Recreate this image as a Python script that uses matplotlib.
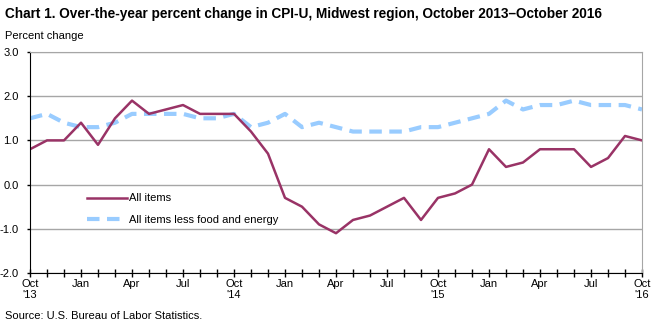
import matplotlib
matplotlib.use('Agg')
import matplotlib.pyplot as plt
from matplotlib.lines import Line2D

plt.rcParams['font.family'] = ['Liberation Sans', 'DejaVu Sans']

# monthly, Oct 2013 .. Oct 2016
all_items = [0.8, 1.0, 1.0, 1.4, 0.9, 1.5, 1.9, 1.6, 1.7, 1.8, 1.6, 1.6,
             1.6, 1.2, 0.7, -0.3, -0.5, -0.9, -1.1, -0.8, -0.7, -0.5, -0.3, -0.8,
             -0.3, -0.2, 0.0, 0.8, 0.4, 0.5, 0.8, 0.8, 0.8, 0.4, 0.6, 1.1,
             1.0]
core = [1.5, 1.6, 1.4, 1.3, 1.3, 1.4, 1.6, 1.6, 1.6, 1.6, 1.5, 1.5,
        1.6, 1.3, 1.4, 1.6, 1.3, 1.4, 1.3, 1.2, 1.2, 1.2, 1.2, 1.3,
        1.3, 1.4, 1.5, 1.6, 1.9, 1.7, 1.8, 1.8, 1.9, 1.8, 1.8, 1.8,
        1.7]
tick_labels = ["Oct\n'13", 'Jan', 'Apr', 'Jul', "Oct\n'14", 'Jan', 'Apr', 'Jul',
               "Oct\n'15", 'Jan', 'Apr', 'Jul', "Oct\n'16"]
y_ticks = [-2.0, -1.0, 0.0, 1.0, 2.0, 3.0]

W, H = 659, 326
fig = plt.figure(figsize=(W / 100, H / 100), dpi=100)
ax = fig.add_axes([30 / W, 1 - 273 / H, (642 - 30) / W, (273 - 52) / H])

x = list(range(len(all_items)))
ax.plot(x, core, color='#99CCFF', lw=3, dashes=(3, 1.8), solid_capstyle='butt')
ax.plot(x, all_items, color='#993366', lw=1.8)

ax.set_xlim(0, 36)
ax.set_ylim(-2, 3)
ax.set_yticks(y_ticks)
ax.set_yticklabels(['%.1f' % v for v in y_ticks])
ax.set_xticks(range(0, 37, 3))
ax.set_xticklabels(tick_labels)
ax.set_xticks(range(37), minor=True)
ax.tick_params(axis='x', which='both', direction='inout', length=6, width=1,
               labelsize=8, pad=1)
ax.tick_params(axis='y', length=2, width=1, labelsize=8, pad=6)

ax.grid(axis='y', color='#A6A6A6', lw=1)
ax.set_axisbelow(True)
ax.spines['left'].set_color('black')
ax.spines['bottom'].set_color('black')
ax.spines['top'].set_color('#A6A6A6')
ax.spines['right'].set_color('#A6A6A6')
ax.spines['bottom'].set_zorder(5)

handles = [Line2D([], [], color='#993366', lw=1.8),
           Line2D([], [], color='#99CCFF', lw=3, dashes=(3, 1.8))]
ax.legend(handles, ['All items', 'All items less food and energy'],
          loc='upper left', bbox_to_anchor=(0.086, 0.38), frameon=False,
          fontsize=8, handlelength=3.6, handletextpad=0.15, labelspacing=1.0,
          borderaxespad=0)

fig.text(5 / W, 1 - 14 / H,
         'Chart 1. Over-the-year percent change in CPI-U, Midwest region, October 2013\u2013October 2016',
         fontsize=9.8, fontweight='bold', va='center', ha='left')
fig.text(5 / W, 1 - 36 / H, 'Percent change', fontsize=8, va='center', ha='left')
fig.text(5 / W, 1 - 316 / H, 'Source: U.S. Bureau of Labor Statistics.',
         fontsize=8, va='center', ha='left')

fig.savefig('out.png', dpi=100)
